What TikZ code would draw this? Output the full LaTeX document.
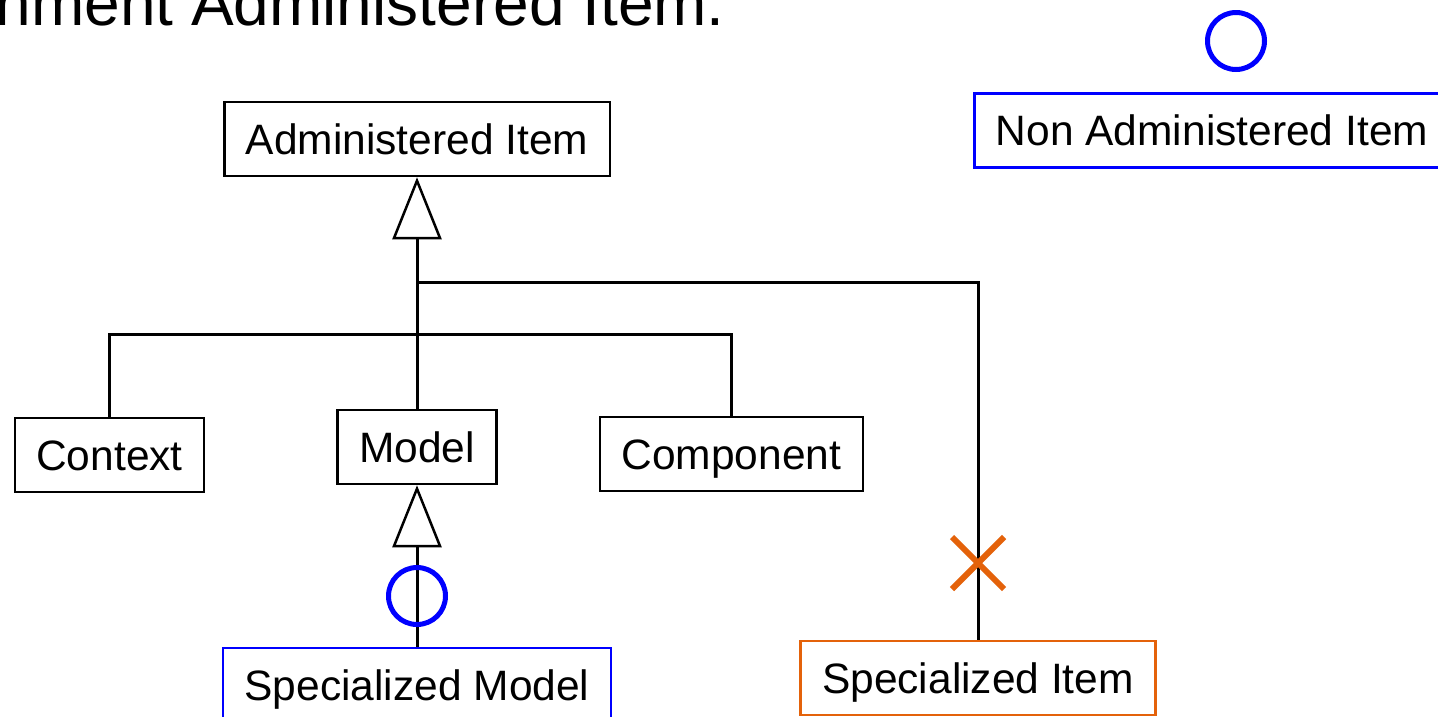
\documentclass[tikz,border=0pt]{standalone}
\usepackage{fontspec}
\setmainfont{Liberation Sans}
\usetikzlibrary{arrows.meta,shapes.misc}
\definecolor{umlblue}{RGB}{0,0,255}
\definecolor{umlorange}{RGB}{228,98,10}
\tikzset{
  box/.style={draw=black, line width=2.5pt, rectangle, inner xsep=21.5pt, inner ysep=0pt,
    minimum height=74pt, text height=30.5pt, text depth=0pt,
    font=\fontsize{42.5}{50}\selectfont},
  bluebox/.style={box, draw=umlblue},
  orangebox/.style={box, draw=umlorange},
  conn/.style={draw=black, line width=3pt},
  gen/.style={conn, -{Triangle[open, length=62pt, width=49pt, line width=2.5pt]}},
  ring/.style={circle, draw=umlblue, line width=5pt, minimum size=57pt, inner sep=0pt, fill=none},
  xmark/.style={cross out, draw=umlorange, line width=6pt, minimum size=46pt, inner sep=0pt}
}
\begin{document}
\begin{tikzpicture}[x=1pt, y=-1pt]
\useasboundingbox (0,0) rectangle (1438,716);
\clip (0,0) rectangle (1438,716);
\fill[white] (0,0) rectangle (1438,716);

\node[anchor=base east, inner sep=0pt, font=\fontsize{64}{70}\selectfont] (title) at (725,25) {nment Administered Item.};

\node[box] (ai) at (417,139) {Administered Item};
\node[box] (ctx) at (109.5,455) {Context};
\node[box] (mdl) at (417,447) {Model};
\node[box] (cmp) at (731.5,454) {Component};
\node[bluebox] (smodel) at (417,685) {Specialized Model};
\node[orangebox] (sitem) at (978,678) {Specialized Item};
\node[bluebox, minimum width=474pt] (nai) at (1212,130.5) {Non Administered Item};

\coordinate (j1) at (417,282);
\coordinate (j2) at (417,334);

\draw[conn] (mdl.north) -- (j1);
\draw[gen] (j1) -- (ai.south);
\draw[conn] (ctx.north) |- (j2) -| (cmp.north);
\draw[conn] (sitem.north) |- (j1);
\draw[gen] (smodel.north) -- (mdl.south);

\node[ring] (r1) at (417,596) {};
\node[ring] (r2) at (1236,41) {};
\node[xmark] (xm) at (978,563) {};
\end{tikzpicture}
\end{document}
